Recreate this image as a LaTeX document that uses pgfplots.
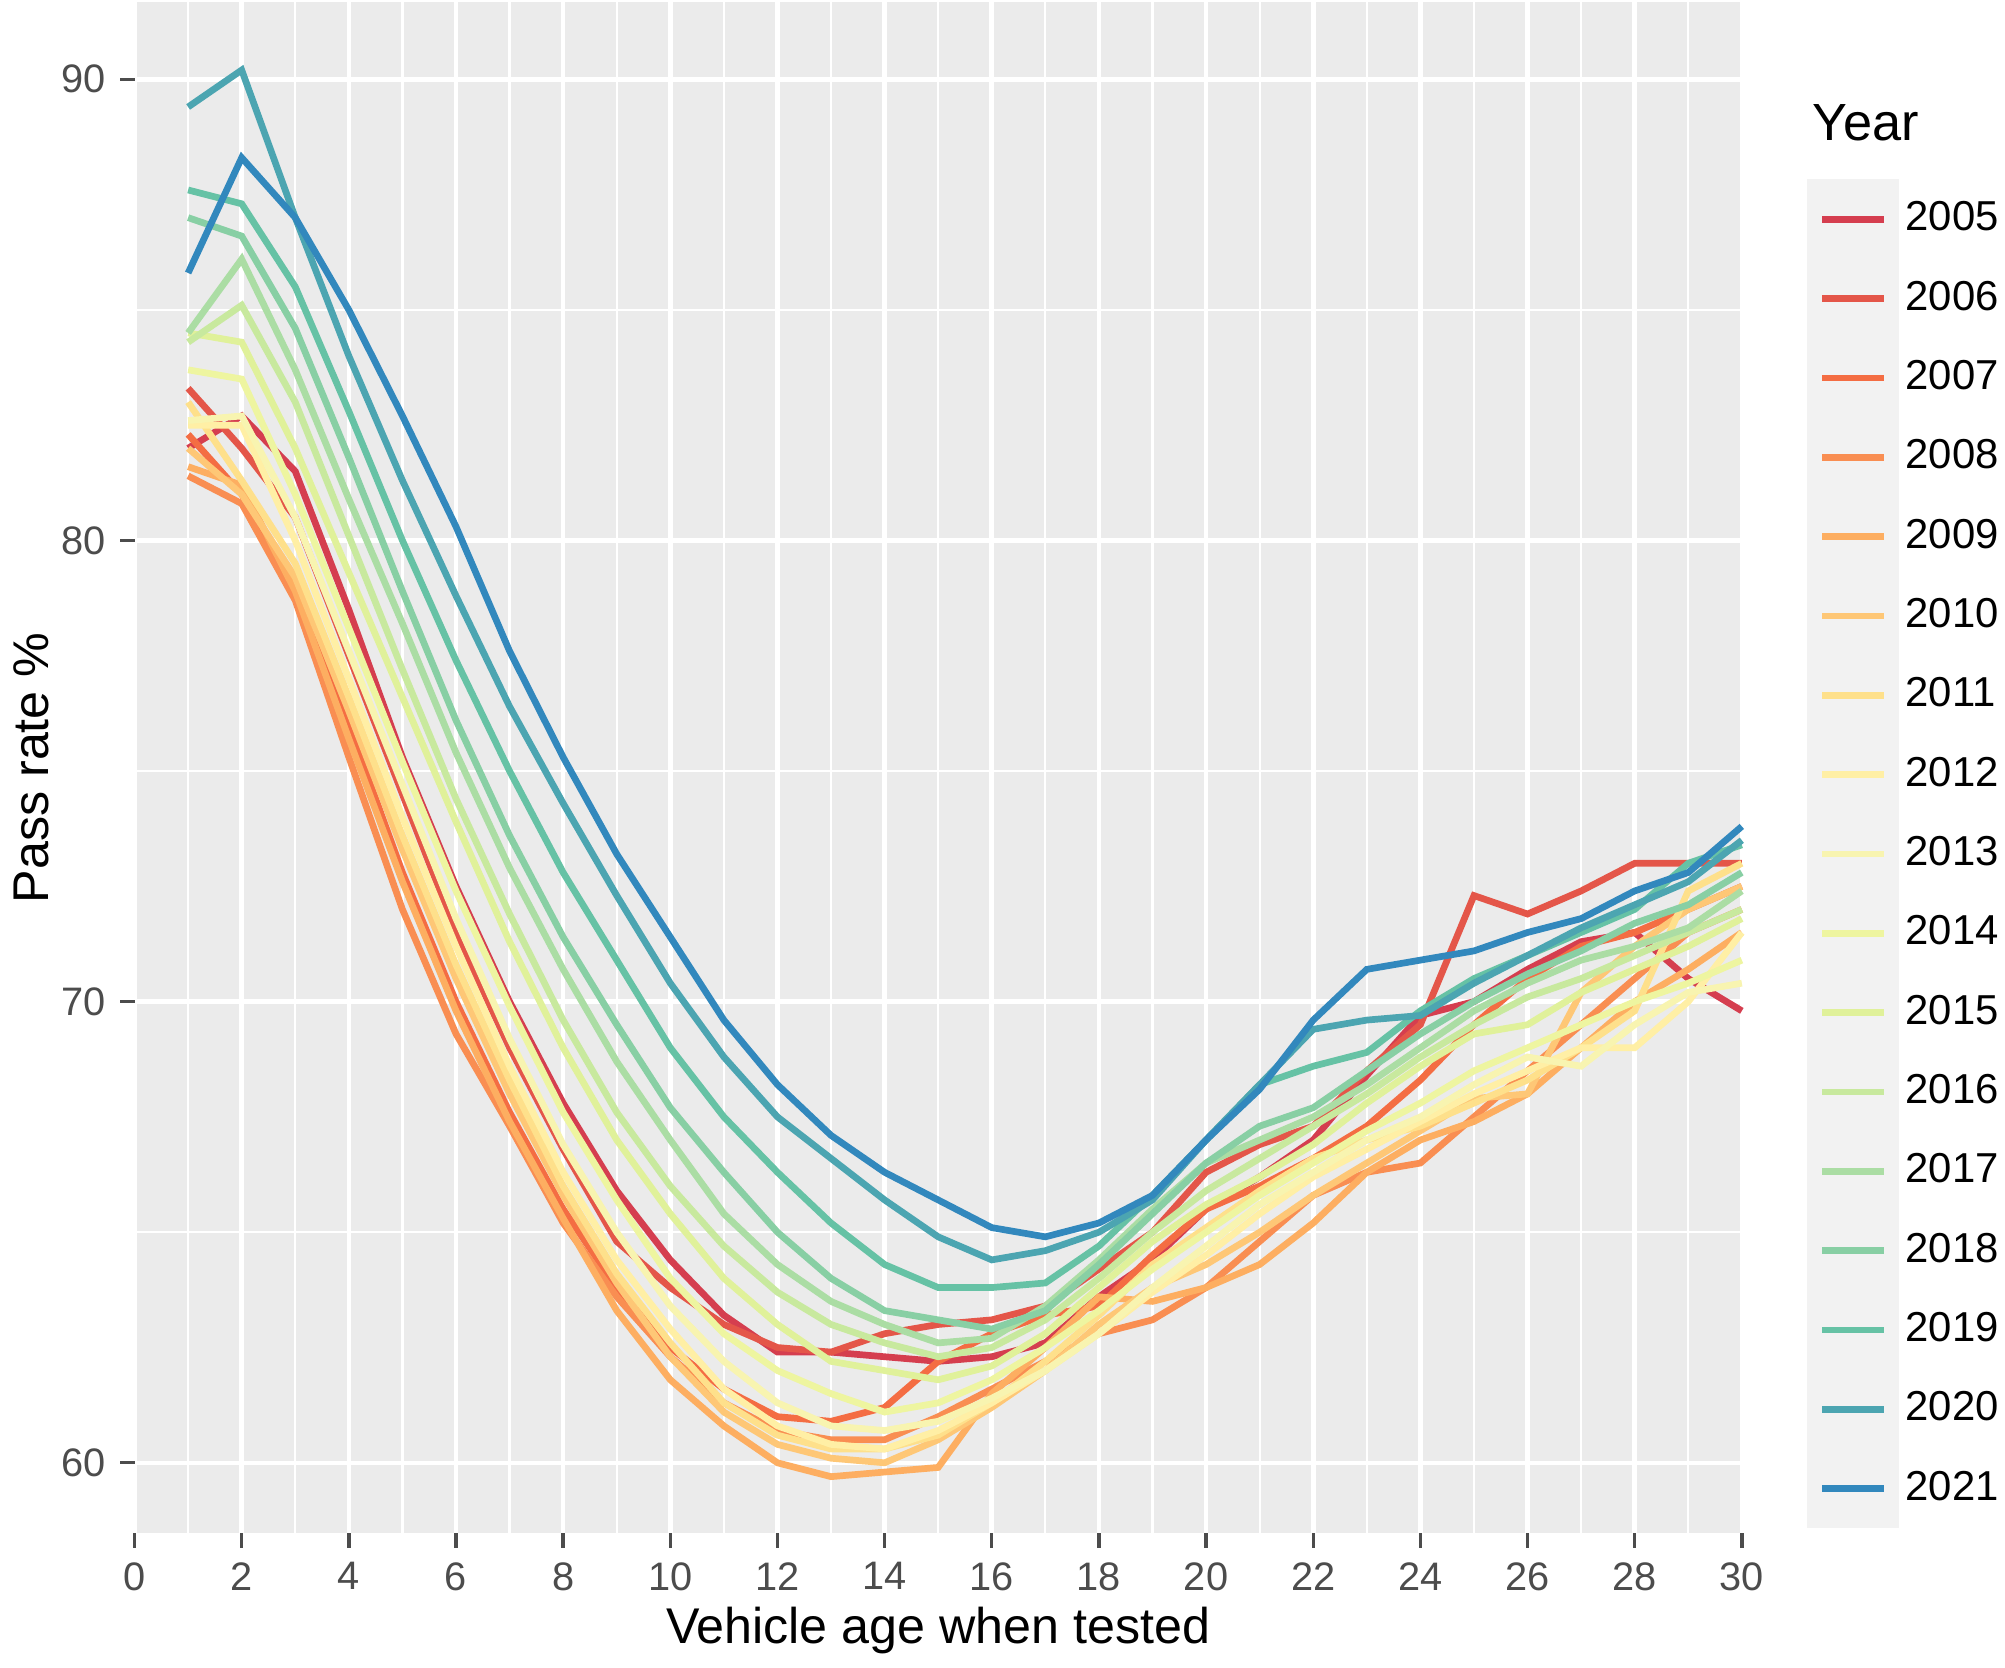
\documentclass[border=0pt]{standalone}
\usepackage{pgfplots}
\usepackage{pgfplotstable}
\pgfplotsset{compat=1.18}
\usepackage{fontspec}
\setmainfont{Liberation Sans}
\definecolor{c05}{HTML}{D53E4F}\definecolor{c06}{HTML}{E45649}\definecolor{c07}{HTML}{F46D43}
\definecolor{c08}{HTML}{F98E52}\definecolor{c09}{HTML}{FDAE61}\definecolor{c10}{HTML}{FEC776}
\definecolor{c11}{HTML}{FEE08B}\definecolor{c12}{HTML}{FFEFA5}\definecolor{c13}{HTML}{F8F4B0}
\definecolor{c14}{HTML}{EEF5A0}\definecolor{c15}{HTML}{E0F19A}\definecolor{c16}{HTML}{C8E99E}
\definecolor{c17}{HTML}{ABDDA4}\definecolor{c18}{HTML}{88CFA4}\definecolor{c19}{HTML}{66C2A5}
\definecolor{c20}{HTML}{4CA5B1}\definecolor{c21}{HTML}{3288BD}
\definecolor{panel}{HTML}{EBEBEB}
\pgfplotstableread{
x a05 a06 a07 a08 a09 a10 a11 a12 a13 a14 a15 a16 a17 a18 a19 a20 a21
1 82.0 83.3 82.3 81.4 81.6 82.0 83.0 82.5 82.6 83.7 84.5 84.3 84.5 87.0 87.6 89.4 85.8
2 82.7 82.0 81.0 80.8 81.2 81.0 81.3 82.5 82.7 83.5 84.3 85.1 86.1 86.6 87.3 90.2 88.3
3 81.5 80.5 79.0 78.7 78.9 79.2 79.5 80.0 80.5 81.0 82.0 83.0 83.7 84.6 85.5 87.0 87.0
4 78.5 77.5 76.0 75.3 75.7 76.3 76.6 77.0 77.6 78.1 79.3 80.1 80.9 81.8 82.8 84.0 85.0
5 75.3 74.5 72.8 72.0 72.6 73.3 73.6 74.0 74.7 75.2 76.6 77.2 78.2 78.9 80.0 81.3 82.7
6 72.5 71.5 70.0 69.3 69.8 70.5 70.8 71.2 71.8 72.4 73.9 74.4 75.4 76.1 77.4 78.8 80.3
7 70.0 69.0 67.6 67.3 67.4 68.0 68.3 68.6 69.2 69.9 71.3 71.9 72.9 73.6 75.0 76.4 77.6
8 67.8 66.8 65.5 65.2 65.3 65.8 66.0 66.3 66.9 67.6 69.0 69.6 70.7 71.4 72.8 74.3 75.3
9 65.9 64.8 63.8 63.6 63.3 63.9 64.1 64.4 65.0 65.7 67.0 67.6 68.7 69.5 70.9 72.3 73.2
10 64.4 63.8 62.5 62.3 61.8 62.3 62.6 62.9 63.4 64.0 65.4 66.0 67.0 67.7 69.0 70.4 71.4
11 63.2 63.0 61.6 61.3 60.8 61.1 61.3 61.6 62.2 62.8 64.0 64.7 65.4 66.3 67.5 68.8 69.6
12 62.4 62.5 61.0 60.7 60.0 60.4 60.6 60.8 61.3 62.0 63.0 63.7 64.3 65.0 66.3 67.5 68.2
13 62.4 62.4 60.9 60.5 59.7 60.1 60.3 60.4 60.8 61.5 62.2 63.0 63.5 64.0 65.2 66.6 67.1
14 62.3 62.8 61.2 60.5 59.8 60.0 60.3 60.3 60.7 61.1 62.0 62.6 63.0 63.3 64.3 65.7 66.3
15 62.2 63.0 62.2 61.0 59.9 60.5 60.6 60.7 60.9 61.3 61.8 62.3 62.6 63.1 63.8 64.9 65.7
16 62.3 63.1 62.8 61.6 61.5 61.2 61.3 61.3 61.4 61.8 62.1 62.5 62.7 62.9 63.8 64.4 65.1
17 62.6 63.4 63.2 62.2 62.5 62.0 62.2 62.0 62.0 62.5 62.8 63.1 63.4 63.3 63.9 64.6 64.9
18 63.6 64.2 63.4 62.8 63.6 63.0 63.2 62.8 62.8 63.3 63.8 64.0 64.4 64.3 64.7 65.0 65.2
19 64.4 65.0 64.5 63.1 63.5 63.8 64.3 63.7 63.8 64.2 64.8 65.0 65.5 65.4 65.8 65.7 65.8
20 65.5 66.3 65.5 63.8 63.8 64.3 65.1 64.5 64.7 65.0 65.6 65.9 66.5 66.5 67.0 67.0 67.0
21 66.2 66.9 66.0 64.8 64.3 65.0 65.9 65.4 65.6 65.8 66.2 66.6 67.0 67.3 68.2 68.2 68.1
22 67.0 67.3 66.6 65.8 65.2 65.8 66.6 66.2 66.3 66.5 66.9 67.3 67.5 67.7 68.6 69.4 69.6
23 68.4 68.5 67.3 66.3 66.3 66.5 67.0 66.8 67.0 67.2 67.8 68.0 68.2 68.5 68.9 69.6 70.7
24 69.7 69.5 68.3 66.5 67.0 67.2 67.3 67.4 67.5 67.8 68.6 68.8 69.0 69.3 69.8 69.7 70.9
25 70.0 72.3 69.5 67.5 67.4 67.9 67.8 68.0 68.2 68.5 69.3 69.5 69.8 70.0 70.5 70.4 71.1
26 70.7 71.9 70.5 68.5 68.0 68.0 68.3 68.5 68.8 69.0 69.5 70.1 70.4 70.6 71.0 71.0 71.5
27 71.3 72.4 71.2 69.5 69.0 70.2 69.0 69.0 68.6 69.5 70.2 70.5 70.9 71.1 71.5 71.6 71.8
28 71.5 73.0 71.5 70.5 70.0 71.2 69.8 69.0 69.5 70.0 70.7 71.0 71.2 71.7 72.0 72.1 72.4
29 70.5 73.0 72.0 71.5 70.7 72.0 72.4 70.0 70.2 70.4 71.2 71.5 71.6 72.1 73.0 72.6 72.8
30 69.8 73.0 72.5 72.0 71.5 72.5 73.0 71.5 70.4 70.9 71.8 72.0 72.4 72.8 73.4 73.5 73.8
}\data
\begin{document}
\begin{tikzpicture}
\begin{axis}[
  scale only axis, width=13.5cm, height=12.86cm,
  xmin=0, xmax=30, ymin=58.47, ymax=91.67,
  xtick={0,2,...,30}, ytick={60,70,80,90},
  minor x tick num=1, minor y tick num=1,
  axis background/.style={fill=panel},
  axis line style={draw=none},
  grid=both,
  major grid style={white, line width=1.1pt},
  minor grid style={white, line width=0.55pt},
  tick align=outside, xtick pos=left, ytick pos=left,
  major tick length=0.12cm, minor tick length=0pt,
  tick style={black!70, line width=0.8pt},
  tick label style={font=\fontsize{9.5}{10}\selectfont, text=black!70},
  /pgf/number format/assume math mode=true,
  xlabel={Vehicle age when tested}, ylabel={Pass rate \%},
  label style={font=\fontsize{12}{13}\selectfont},
  xlabel style={yshift=3pt}, ylabel style={yshift=-4pt},
  every axis plot/.append style={line width=1.6pt, no marks},
  legend style={at={(1.04,0.885)}, anchor=north west, draw=none, fill=white,
    font=\fontsize{10}{11}\selectfont, row sep=0pt, inner sep=0pt,
    nodes={inner sep=1.5pt}},
  legend cell align=left,
  legend image code/.code={\fill[black!5] (-0.1cm,-0.3cm) rectangle (0.62cm,0.31cm);
    \draw[line width=1.6pt] (0cm,0cm) -- (0.52cm,0cm);},
  clip=false,
]
\addplot[c05] table[x=x,y=a05]{\data}; \addlegendentry{2005}
\addplot[c06] table[x=x,y=a06]{\data}; \addlegendentry{2006}
\addplot[c07] table[x=x,y=a07]{\data}; \addlegendentry{2007}
\addplot[c08] table[x=x,y=a08]{\data}; \addlegendentry{2008}
\addplot[c09] table[x=x,y=a09]{\data}; \addlegendentry{2009}
\addplot[c10] table[x=x,y=a10]{\data}; \addlegendentry{2010}
\addplot[c11] table[x=x,y=a11]{\data}; \addlegendentry{2011}
\addplot[c12] table[x=x,y=a12]{\data}; \addlegendentry{2012}
\addplot[c13] table[x=x,y=a13]{\data}; \addlegendentry{2013}
\addplot[c14] table[x=x,y=a14]{\data}; \addlegendentry{2014}
\addplot[c15] table[x=x,y=a15]{\data}; \addlegendentry{2015}
\addplot[c16] table[x=x,y=a16]{\data}; \addlegendentry{2016}
\addplot[c17] table[x=x,y=a17]{\data}; \addlegendentry{2017}
\addplot[c18] table[x=x,y=a18]{\data}; \addlegendentry{2018}
\addplot[c19] table[x=x,y=a19]{\data}; \addlegendentry{2019}
\addplot[c20] table[x=x,y=a20]{\data}; \addlegendentry{2020}
\addplot[c21] table[x=x,y=a21]{\data}; \addlegendentry{2021}
\node[anchor=south west, font=\fontsize{12.5}{14}\selectfont] at (rel axis cs:1.035,0.9) {Year};
\end{axis}
\end{tikzpicture}
\end{document}
